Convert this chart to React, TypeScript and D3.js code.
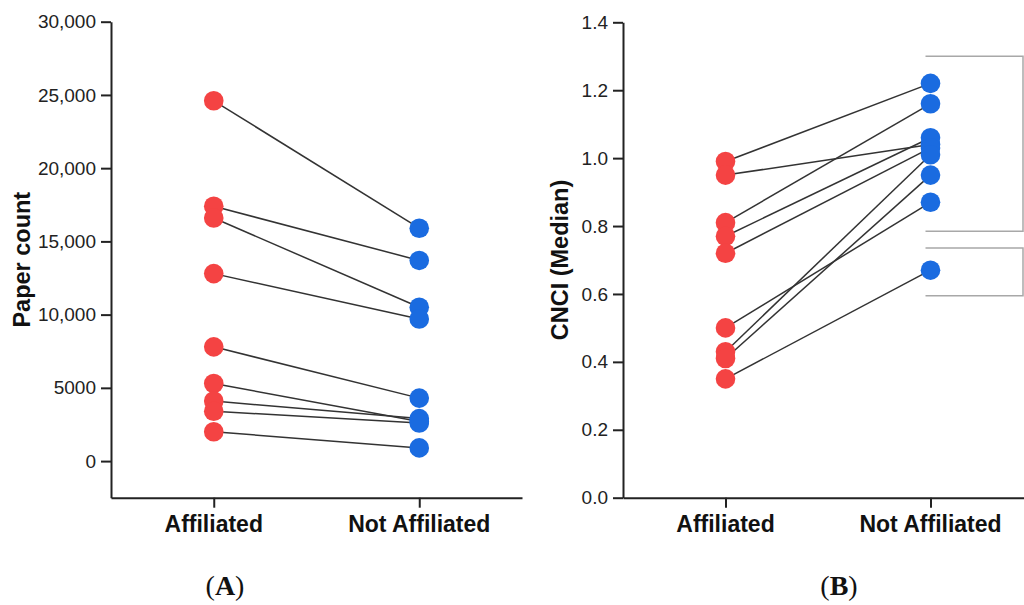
import React, { useEffect, useRef } from 'react';
import * as d3 from 'd3';

const categories = ['Affiliated', 'Not Affiliated'];

// Panel A: paper counts, paired by institution
const paperAffiliated = [24600, 17400, 16600, 12800, 7800, 5300, 4100, 3400, 2000];
const paperNotAffiliated = [15900, 13700, 10500, 9700, 4300, 2700, 2900, 2600, 900];
const paperTicks = [0, 5000, 10000, 15000, 20000, 25000, 30000];

// Panel B: CNCI (median), paired by institution
const cnciAffiliated = [0.99, 0.95, 0.81, 0.77, 0.72, 0.5, 0.43, 0.41, 0.35];
const cnciNotAffiliated = [1.22, 1.04, 1.16, 1.06, 1.03, 0.87, 1.01, 0.95, 0.67];
const cnciTicks = [0, 0.2, 0.4, 0.6, 0.8, 1.0, 1.2, 1.4];

// grey group brackets on the right of panel B (top, bottom)
const bracketTops = [1.3, 0.735];
const bracketBottoms = [0.785, 0.595];

const RED = '#f44343';
const BLUE = '#1a6be0';
const AXIS = '#222';
const SANS = '"Liberation Sans", Arial, sans-serif';
const SERIF = '"Liberation Serif", "Times New Roman", serif';

const App: React.FC = () => {
  const svgRef = useRef<SVGSVGElement>(null);

  useEffect(() => {
    if (!svgRef.current) return;
    const svg = d3.select(svgRef.current);
    svg.selectAll('*').remove();

    const drawPanel = (
      left: number,
      right: number,
      y: d3.ScaleLinear<number, number>,
      ticks: number[],
      fmt: (d: number) => string,
      aff: number[],
      notAff: number[],
      title: string,
      titleX: number,
      label: string,
      labelX: number
    ) => {
      const x = d3.scalePoint<string>().domain(categories).range([left, right]).padding(0.5);
      const bottom = y.range()[0];
      const g = svg.append('g');

      // paired lines
      g.append('g')
        .selectAll('line')
        .data(aff.map((a, i) => [a, notAff[i]]))
        .join('line')
        .attr('x1', x(categories[0])!)
        .attr('x2', x(categories[1])!)
        .attr('y1', d => y(d[0]))
        .attr('y2', d => y(d[1]))
        .attr('stroke', '#333')
        .attr('stroke-width', 1.5);

      g.append('g')
        .selectAll('circle')
        .data(aff)
        .join('circle')
        .attr('cx', x(categories[0])!)
        .attr('cy', d => y(d))
        .attr('r', 9.8)
        .attr('fill', RED);

      g.append('g')
        .selectAll('circle')
        .data(notAff)
        .join('circle')
        .attr('cx', x(categories[1])!)
        .attr('cy', d => y(d))
        .attr('r', 9.8)
        .attr('fill', BLUE);

      // y axis
      const yAxis = g.append('g')
        .attr('transform', `translate(${left},0)`)
        .call(d3.axisLeft(y).tickValues(ticks).tickFormat(d => fmt(+d)).tickSize(10).tickSizeOuter(0).tickPadding(5));
      yAxis.select('.domain').attr('stroke', AXIS).attr('stroke-width', 2);
      yAxis.selectAll('.tick line').attr('stroke', AXIS).attr('stroke-width', 2);
      yAxis.selectAll('.tick text')
        .attr('fill', AXIS)
        .style('font-family', SANS)
        .style('font-size', '19px');

      // x axis
      const xAxis = g.append('g')
        .attr('transform', `translate(0,${bottom})`)
        .call(d3.axisBottom(x).tickSize(10).tickSizeOuter(0).tickFormat(() => ''));
      xAxis.select('.domain').attr('stroke', AXIS).attr('stroke-width', 2);
      xAxis.selectAll('.tick line').attr('stroke', AXIS).attr('stroke-width', 2);

      g.append('g')
        .selectAll('text')
        .data(categories)
        .join('text')
        .attr('x', d => x(d)!)
        .attr('y', 532)
        .attr('text-anchor', 'middle')
        .style('font-family', SANS)
        .style('font-weight', 'bold')
        .style('font-size', '23px')
        .attr('fill', '#111')
        .text(d => d);

      g.append('text')
        .attr('transform', `translate(${titleX},${(y.range()[0] + y.range()[1]) / 2}) rotate(-90)`)
        .attr('text-anchor', 'middle')
        .style('font-family', SANS)
        .style('font-weight', 'bold')
        .style('font-size', '23.5px')
        .attr('fill', '#111')
        .text(title);

      const pl = g.append('text')
        .attr('x', labelX)
        .attr('y', 595)
        .attr('text-anchor', 'middle')
        .style('font-family', SERIF)
        .style('font-size', '28px')
        .attr('fill', '#111');
      pl.append('tspan').text('(');
      pl.append('tspan').style('font-weight', 'bold').text(label);
      pl.append('tspan').text(')');

      return x;
    };

    const yA = d3.scaleLinear().domain([-2500, 30000]).range([497.7, 21.7]);
    drawPanel(111, 522, yA, paperTicks, d => (d >= 10000 ? d3.format(',')(d) : String(d)),
      paperAffiliated, paperNotAffiliated, 'Paper count', 29.5, 'A', 225);

    const yB = d3.scaleLinear().domain([0, 1.4]).range([497.7, 22.3]);
    const xB = drawPanel(623, 1033, yB, cnciTicks, d => d3.format('.1f')(d),
      cnciAffiliated, cnciNotAffiliated, 'CNCI (Median)', 568, 'B', 839);

    // brackets
    const bx0 = xB(categories[1])! - 5;
    const bx1 = 1023;
    svg.append('g')
      .selectAll('path')
      .data(bracketTops.map((t, i) => [t, bracketBottoms[i]]))
      .join('path')
      .attr('d', d => `M${bx0},${yB(d[0])}H${bx1}V${yB(d[1])}H${bx0}`)
      .attr('fill', 'none')
      .attr('stroke', '#a8a8a8')
      .attr('stroke-width', 1.5);
  }, []);

  return (
    <svg
      ref={svgRef}
      width={1024}
      height={605}
      style={{ position: 'absolute', left: 0, top: 0, background: '#fff' }}
    />
  );
};

export default App;
